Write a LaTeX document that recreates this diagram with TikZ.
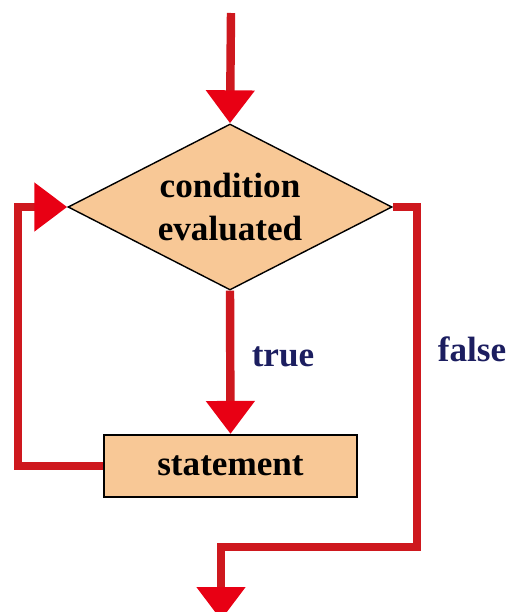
\documentclass[tikz,border=0pt]{standalone}
\usepackage{fontspec}
\setmainfont{Liberation Serif}
\usetikzlibrary{shapes.geometric,arrows.meta}

\definecolor{flowred}{RGB}{206,24,30}
\definecolor{tipred}{RGB}{232,0,20}
\definecolor{peach}{RGB}{248,200,150}
\definecolor{labelblue}{RGB}{28,30,96}

\begin{document}
\begin{tikzpicture}[
   decision/.style={diamond,aspect=1.95,draw=black,thin,fill=peach,
      minimum width=3.24cm,minimum height=1.66cm,inner sep=0pt,align=center,
      font=\bfseries},
   block/.style={rectangle,draw=black,semithick,fill=peach,minimum width=2.53cm,
      minimum height=0.62cm,inner sep=0pt,font=\bfseries},
   flow/.style={draw=flowred,line width=2.4pt},
   arrow/.style={flow,-{Triangle[length=3.3mm,width=4.7mm,color=tipred]}},
   branch/.style={text=labelblue,font=\bfseries}
]
   \useasboundingbox (0,0) rectangle (5.10,-6.12);

   \node[decision] (cond) at (2.30,-2.07) {condition\\evaluated};
   \node[block] (stmt) at (2.305,-4.66) {statement};

   \coordinate (in) at (2.31,-0.13);
   \coordinate (out) at (2.21,-6.20);

   \node[branch] (t) at (2.83,-3.57) {true};
   \node[branch] (f) at (4.72,-3.49) {false};

   \draw[arrow] (in) -- (cond.north);
   \draw[arrow] (cond.south) -- (stmt.north);
   % loop back to the test
   \draw[arrow] (stmt.west) -- ++(-0.85,0) |- (cond.west);
   % exit
   \draw[arrow] (cond.east) -| (4.17,-5.47) -| (out);
\end{tikzpicture}
\end{document}
